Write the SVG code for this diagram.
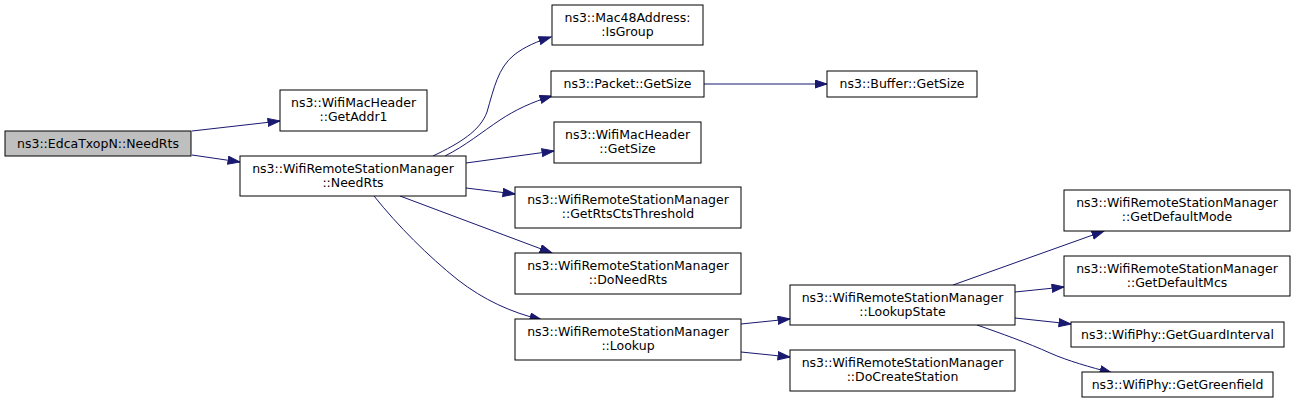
<svg xmlns="http://www.w3.org/2000/svg" width="1296" height="404" viewBox="0 0 1296 404">
<style>
.n rect{fill:#fff;stroke:#000;stroke-width:1}
.n.root rect{fill:#bfbfbf}
.n text{font-family:"DejaVu Sans",sans-serif;font-size:12.5px;fill:#000;text-anchor:middle}
#edges path{fill:none;stroke:#191970;stroke-width:1;marker-end:url(#arr)}
</style>
<defs>
<marker id="arr" markerUnits="userSpaceOnUse" markerWidth="14" markerHeight="10" refX="12.5" refY="4.5" orient="auto">
<path d="M0.5,0.5 L12.5,4.5 L0.5,8.5 z" fill="#191970" stroke="#191970" stroke-width="1"/>
</marker>
</defs>
<rect width="1296" height="404" fill="#fff"/>
<g id="edges">
<path d="M192,131 L280,121"/>
<path d="M192,155 L240,162"/>
<path d="M433,156 C460,143 480,131 487,112 C494,88 498,68 514,55 C524,47 538,41 551,37"/>
<path d="M445,156 C465,146 482,132 500,120 C515,110 532,102 552,96"/>
<path d="M466,163 L554,151"/>
<path d="M466,188 L515,194"/>
<path d="M400,196 L552,253"/>
<path d="M374,196 C398,226 428,256 458,280 C484,300 510,312 542,320"/>
<path d="M704,84 L827,84"/>
<path d="M741,324 L790,319"/>
<path d="M741,352 L790,357"/>
<path d="M953,285 L1104,231"/>
<path d="M1015,292 L1064,287"/>
<path d="M1015,318 L1071,324"/>
<path d="M977,325 C1000,333 1028,343 1050,353 C1068,361 1090,367 1112,373"/>
</g>
<g id="node_edca" class="n root"><rect x="5" y="131" width="186" height="25"/><text x="98" y="147.5">ns3::EdcaTxopN::NeedRts</text></g>
<g id="node_getaddr1" class="n"><rect x="280" y="90" width="147" height="41"/><text x="353.5" y="106.5">ns3::WifiMacHeader</text><text x="353.5" y="120.5">::GetAddr1</text></g>
<g id="node_wrsm_needrts" class="n"><rect x="240" y="156" width="226" height="40"/><text x="353" y="172.5">ns3::WifiRemoteStationManager</text><text x="353" y="186.5">::NeedRts</text></g>
<g id="node_isgroup" class="n"><rect x="552" y="5" width="151" height="40"/><text x="627.5" y="21.5">ns3::Mac48Address:</text><text x="627.5" y="35.5">:IsGroup</text></g>
<g id="node_packet_getsize" class="n"><rect x="551" y="71" width="153" height="26"/><text x="627.5" y="88">ns3::Packet::GetSize</text></g>
<g id="node_wmh_getsize" class="n"><rect x="554" y="122" width="147" height="41"/><text x="627.5" y="138.5">ns3::WifiMacHeader</text><text x="627.5" y="152.5">::GetSize</text></g>
<g id="node_rtscts" class="n"><rect x="515" y="187" width="226" height="41"/><text x="628" y="203.5">ns3::WifiRemoteStationManager</text><text x="628" y="217.5">::GetRtsCtsThreshold</text></g>
<g id="node_doneedrts" class="n"><rect x="515" y="253" width="226" height="41"/><text x="628" y="269.5">ns3::WifiRemoteStationManager</text><text x="628" y="283.5">::DoNeedRts</text></g>
<g id="node_lookup" class="n"><rect x="515" y="319" width="226" height="41"/><text x="628" y="335.5">ns3::WifiRemoteStationManager</text><text x="628" y="349.5">::Lookup</text></g>
<g id="node_buffer_getsize" class="n"><rect x="827" y="71" width="150" height="26"/><text x="902" y="88">ns3::Buffer::GetSize</text></g>
<g id="node_lookupstate" class="n"><rect x="790" y="285" width="225" height="40"/><text x="902.5" y="301.5">ns3::WifiRemoteStationManager</text><text x="902.5" y="315.5">::LookupState</text></g>
<g id="node_docreatestation" class="n"><rect x="790" y="350" width="225" height="41"/><text x="902.5" y="366.5">ns3::WifiRemoteStationManager</text><text x="902.5" y="380.5">::DoCreateStation</text></g>
<g id="node_defaultmode" class="n"><rect x="1064" y="190" width="226" height="41"/><text x="1177" y="206.5">ns3::WifiRemoteStationManager</text><text x="1177" y="220.5">::GetDefaultMode</text></g>
<g id="node_defaultmcs" class="n"><rect x="1064" y="256" width="226" height="40"/><text x="1177" y="272.5">ns3::WifiRemoteStationManager</text><text x="1177" y="286.5">::GetDefaultMcs</text></g>
<g id="node_guard" class="n"><rect x="1071" y="322" width="213" height="25"/><text x="1177.5" y="338.5">ns3::WifiPhy::GetGuardInterval</text></g>
<g id="node_greenfield" class="n"><rect x="1082" y="372" width="191" height="25"/><text x="1177.5" y="388.5">ns3::WifiPhy::GetGreenfield</text></g>
</svg>
